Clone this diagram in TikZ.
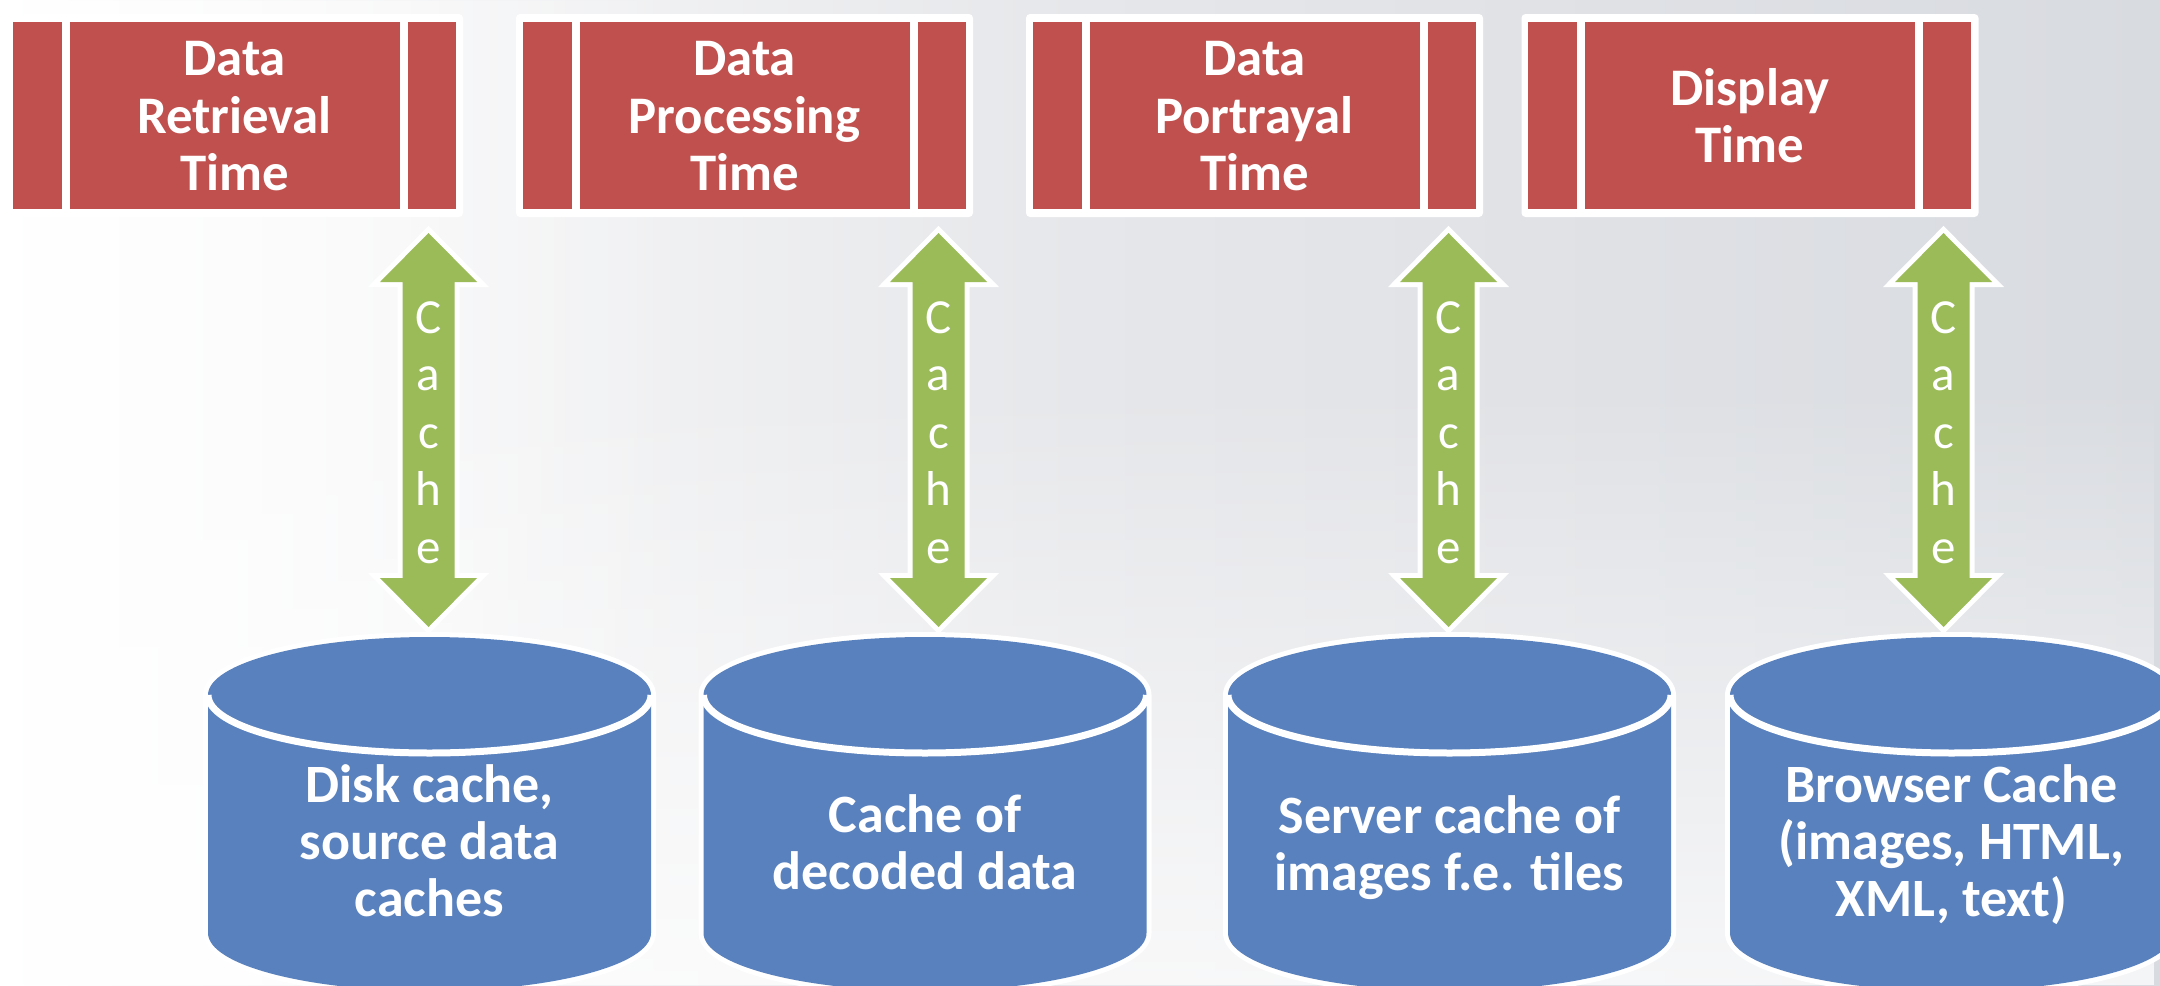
\documentclass[tikz,border=0pt]{standalone}
\usepackage{fontspec}
\setmainfont{Carlito}
\usetikzlibrary{calc,fadings}
\definecolor{boxred}{HTML}{C0504D}
\definecolor{arrgreen}{HTML}{9BBB59}
\definecolor{cylblue}{HTML}{5981BE}
\definecolor{bgmid}{HTML}{E6E7EA}
\definecolor{bgdark}{HTML}{D8DBE0}
\tikzset{
  boxframe/.style={fill=white, rounded corners=4pt, inner sep=0pt, minimum width=457pt, minimum height=203pt},
  boxtext/.style={text=white, align=center, inner sep=0pt, font=\fontsize{52.8}{57.5}\selectfont\bfseries},
  cachetext/.style={text=white, align=center, inner sep=0pt, font=\fontsize{49}{57.5}\selectfont},
  cyltext/.style={text=white, align=center, inner sep=0pt, font=\fontsize{54}{57}\selectfont\bfseries},
  halo/.style={draw=white, line width=10pt, line join=miter, miter limit=10},
}
\begin{document}
\begin{tikzpicture}[x=1pt,y=-1pt]
\useasboundingbox (0,0) rectangle (2160,985);
\clip (0,0) rectangle (2160,985);
% background
\shade[left color=white, right color=bgdark, middle color=bgmid] (0,0) rectangle (2160,985);
\fill[white, path fading=north, opacity=0.75] (0,380) rectangle (2160,985);
\fill[white, path fading=east, opacity=0.8] (0,0) rectangle (700,985);
% boxes
\foreach \i/\cx/\ty/\txt in {1/234.5/116.5/{Data\\Retrieval\\Time},
                            2/744.5/116.5/{Data\\Processing\\Time},
                            3/1254.5/116.5/{Data\\Portrayal\\Time},
                            4/1750/115.5/{Display\\Time}}{
  \node[boxframe] (b\i) at (\cx,115.5) {};
  \fill[boxred] ($(b\i.north west)+(7,8)$) rectangle ($(b\i.north west)+(56,195)$);
  \fill[boxred] ($(b\i.north west)+(64,8)$) rectangle ($(b\i.north west)+(394,195)$);
  \fill[boxred] ($(b\i.north west)+(402,8)$) rectangle ($(b\i.north west)+(450,195)$);
  \node[boxtext] (t\i) at (\cx,\ty) {\txt};
}
% cylinders
\foreach \i/\cx/\ty/\txt in {1/429.5/841/{Disk cache,\\source data\\caches},
                            2/925/842.5/{Cache of\\decoded data},
                            3/1449.5/847.5/{Server cache of\\images f.e. tiles},
                            4/1951.5/844.5/{Browser Cache\\(images, HTML,\\XML, text)}}{
  \path[halo, fill=cylblue] (\cx-221.5,695) -- (\cx-221.5,933)
     arc[start angle=180, end angle=360, x radius=221.5pt, y radius=58pt]
     -- (\cx+221.5,695)
     arc[start angle=0, end angle=180, x radius=221.5pt, y radius=58pt] -- cycle;
  \fill[cylblue] (\cx-221.5,695) -- (\cx-221.5,933)
     arc[start angle=180, end angle=360, x radius=221.5pt, y radius=58pt]
     -- (\cx+221.5,695)
     arc[start angle=0, end angle=180, x radius=221.5pt, y radius=58pt] -- cycle;
  \draw[white, line width=7pt] (\cx-221.5,695)
     arc[start angle=180, end angle=360, x radius=221.5pt, y radius=58pt];
  \node[cyltext] (d\i) at (\cx,\ty) {\txt};
}
% cache arrows
\foreach \i/\cx in {1/428.5,2/938.5,3/1448.5,4/1943.5}{
  \path[halo] (\cx,233) -- (\cx+48.5,282) -- (\cx+26,282) -- (\cx+26,578) -- (\cx+48.5,578)
     -- (\cx,627) -- (\cx-48.5,578) -- (\cx-26,578) -- (\cx-26,282) -- (\cx-48.5,282) -- cycle;
  \fill[arrgreen] (\cx,233) -- (\cx+48.5,282) -- (\cx+26,282) -- (\cx+26,578) -- (\cx+48.5,578)
     -- (\cx,627) -- (\cx-48.5,578) -- (\cx-26,578) -- (\cx-26,282) -- (\cx-48.5,282) -- cycle;
  \node[cachetext] (k\i) at (\cx,432.5) {C\\a\\c\\h\\e};
}
\end{tikzpicture}
\end{document}
